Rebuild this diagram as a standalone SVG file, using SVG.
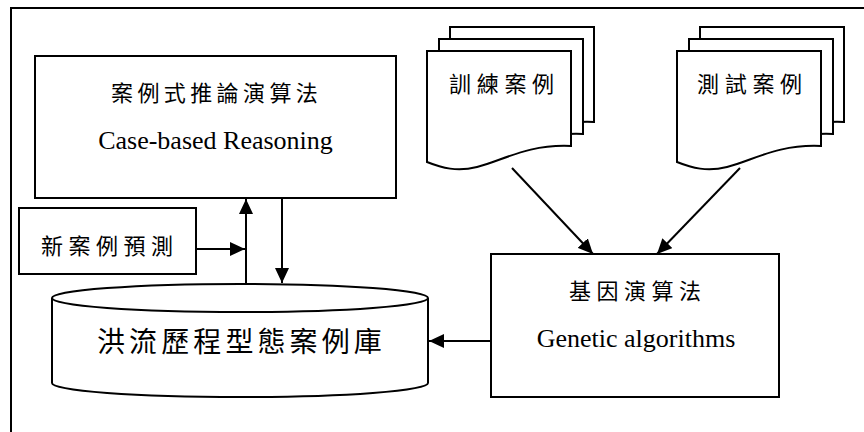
<svg xmlns="http://www.w3.org/2000/svg" width="864" height="432" viewBox="0 0 864 432">
  <style>
    .box { fill: #fff; stroke: #000; stroke-width: 2; }
    .doc { fill: #fff; stroke: #000; stroke-width: 2; stroke-linejoin: miter; }
    .cjk { font-family: "Liberation Serif", "Noto Sans CJK TC", serif; font-size: 22px; fill: #000; }
    .en { font-family: "Liberation Serif", "Times New Roman", serif; font-size: 26px; fill: #000; }
    .wire { stroke: #000; stroke-width: 2; fill: none; marker-end: url(#head); }
  </style>
  <defs>
    <marker id="head" markerUnits="userSpaceOnUse" markerWidth="16" markerHeight="14" refX="15" refY="7" orient="auto">
      <path d="M0,0 L15,7 L0,14 Z" fill="#000"/>
    </marker>
    <!-- document sheet with wavy bottom edge -->
    <path id="sheet" d="M0,0 H144 V95 C100,93 75,110 50,116 C30,121 15,117 0,111 Z"/>
  </defs>

  <rect width="864" height="432" fill="#fff"/>
  <!-- outer frame -->
  <path d="M11,440 V8 H870" fill="none" stroke="#000" stroke-width="2"/>

  <g id="cbr">
    <rect class="box" x="35" y="56" width="361" height="142"/>
    <text class="cjk" x="111" y="101" letter-spacing="4.4">案例式推論演算法</text>
    <text class="en" x="215.5" y="149" text-anchor="middle">Case-based Reasoning</text>
  </g>

  <g id="new-case">
    <rect class="box" x="19" y="208" width="177" height="66"/>
    <text class="cjk" x="41" y="254" letter-spacing="5.5">新案例預測</text>
  </g>

  <g id="case-base">
    <path class="box" d="M52,298 V383 A188,14 0 0 0 428,383 V298"/>
    <ellipse class="box" cx="240" cy="298" rx="188" ry="14"/>
    <text class="cjk" x="97" y="352" style="font-size:28px" letter-spacing="4.1">洪流歷程型態案例庫</text>
  </g>

  <g id="training-cases">
    <use href="#sheet" class="doc" transform="translate(450,27)"/>
    <use href="#sheet" class="doc" transform="translate(439,39)"/>
    <use href="#sheet" class="doc" transform="translate(427,51)"/>
    <text class="cjk" x="449" y="92" letter-spacing="5.7">訓練案例</text>
  </g>

  <g id="test-cases">
    <use href="#sheet" class="doc" transform="translate(700,27)"/>
    <use href="#sheet" class="doc" transform="translate(689,39)"/>
    <use href="#sheet" class="doc" transform="translate(677,51)"/>
    <text class="cjk" x="697" y="92" letter-spacing="5.7">測試案例</text>
  </g>

  <g id="ga">
    <rect class="box" x="491" y="254" width="288" height="143"/>
    <text class="cjk" x="569" y="299" letter-spacing="5.5">基因演算法</text>
    <text class="en" x="636" y="347" text-anchor="middle">Genetic algorithms</text>
  </g>

  <g id="connectors">
    <line class="wire" x1="246" y1="284" x2="246" y2="199"/>
    <line class="wire" x1="282" y1="198" x2="282" y2="283"/>
    <line class="wire" x1="196" y1="249" x2="245" y2="249"/>
    <line class="wire" x1="512" y1="168" x2="593" y2="254"/>
    <line class="wire" x1="740" y1="168" x2="657" y2="254"/>
    <line class="wire" x1="491" y1="341" x2="429" y2="341"/>
  </g>
</svg>
